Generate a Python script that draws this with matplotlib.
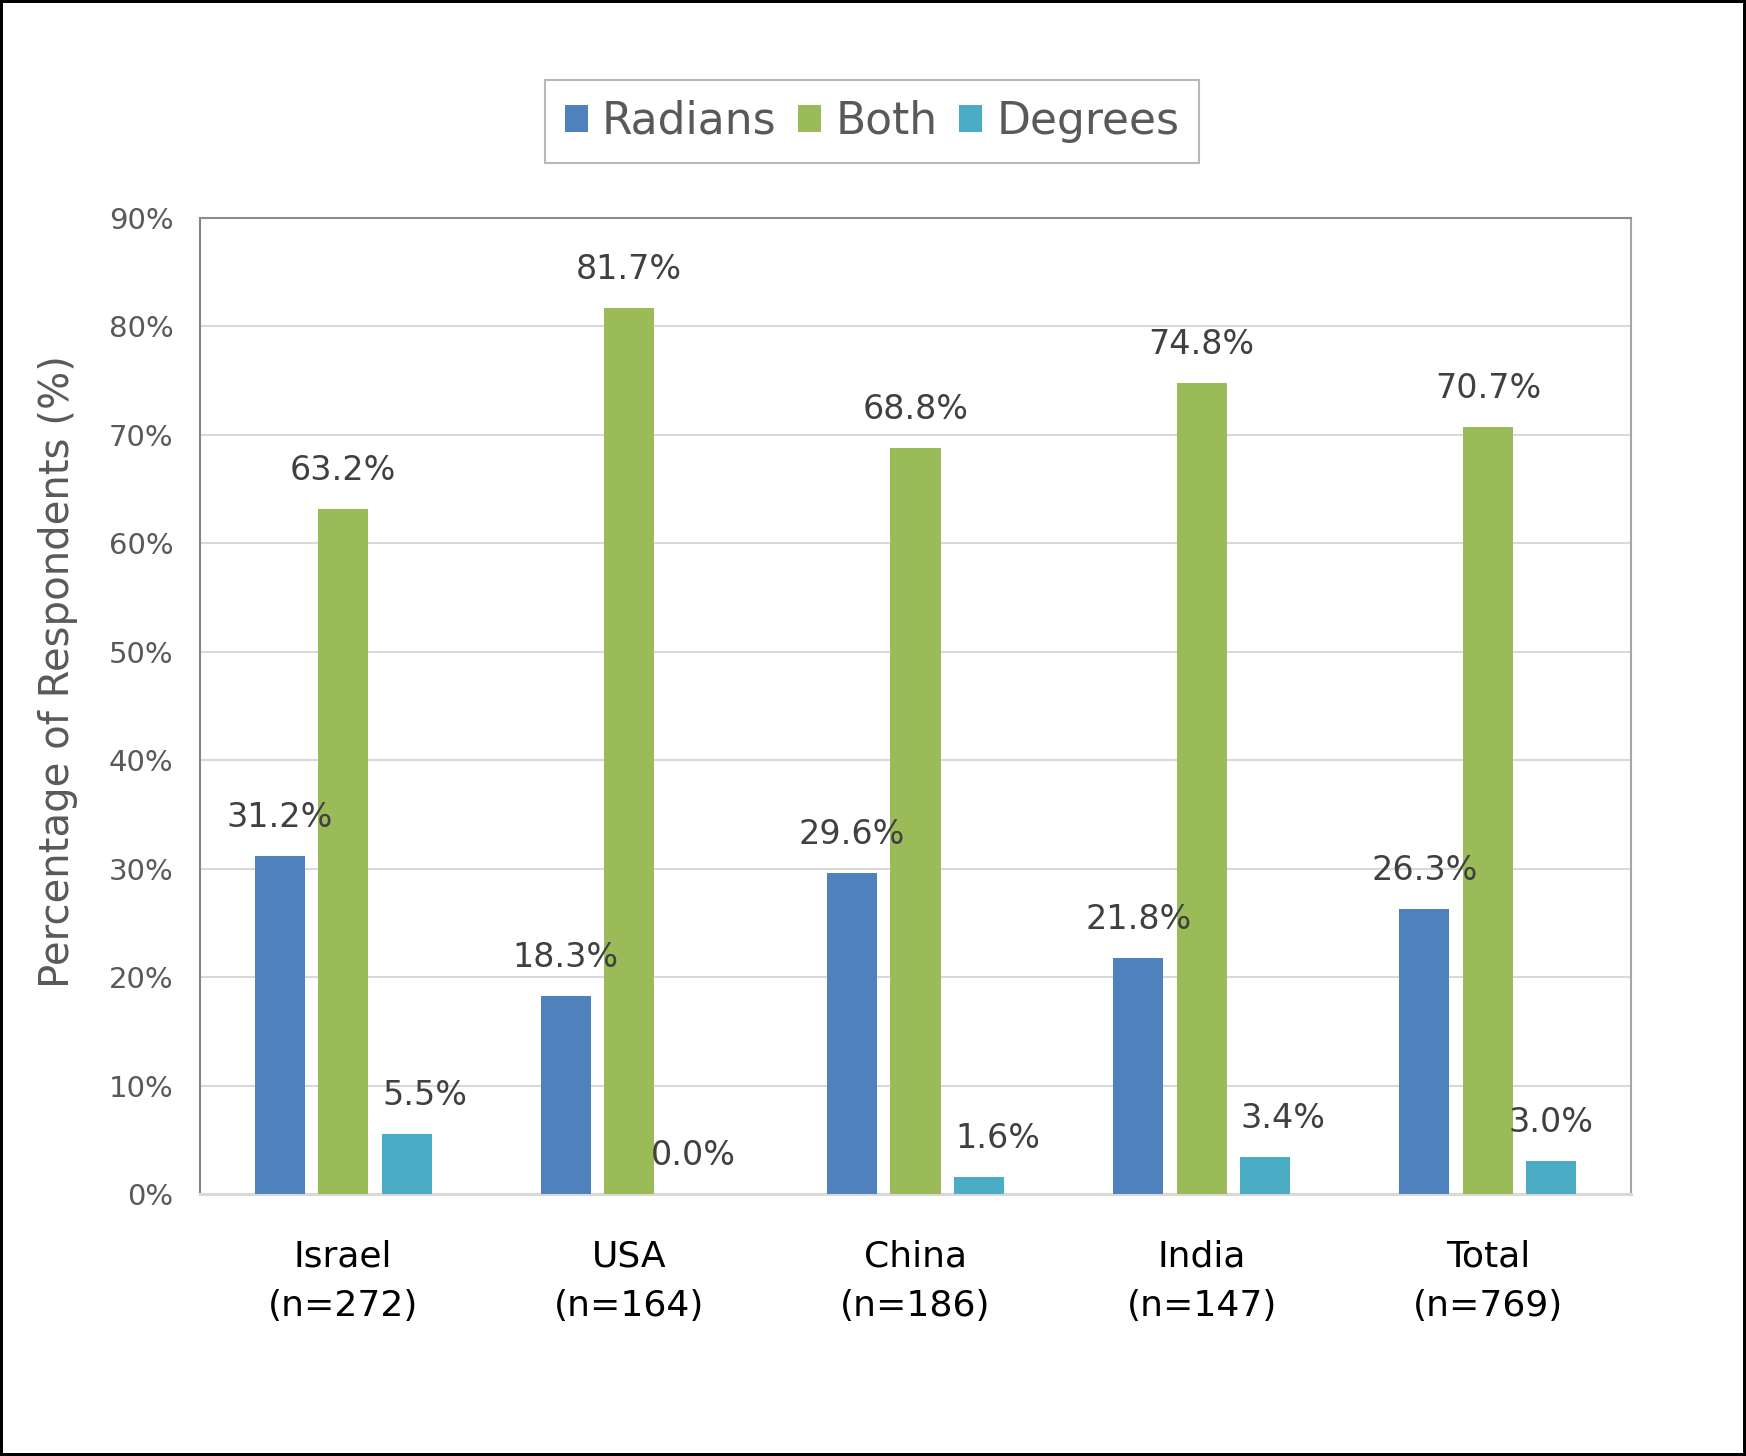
import matplotlib
matplotlib.use("Agg")
import matplotlib.pyplot as plt
import numpy as np
from matplotlib.patches import Rectangle, Patch

# ---- data ----
categories = ["Israel\n(n=272)", "USA\n(n=164)", "China\n(n=186)", "India\n(n=147)", "Total\n(n=769)"]
series_names = ["Radians", "Both", "Degrees"]
radians = [31.2, 18.3, 29.6, 21.8, 26.3]
both = [63.2, 81.7, 68.8, 74.8, 70.7]
degrees = [5.5, 0.0, 1.6, 3.4, 3.0]
yticks = [0, 10, 20, 30, 40, 50, 60, 70, 80, 90]

# ---- style ----
colors = ["#4F81BD", "#9BBB59", "#4BACC6"]
label_dx_pts = [[0, 0, 0, 0, 0], [0, 0, 0, 0, 0], [13, 0, 13.5, 13, -0.7]]

plt.rcParams['font.family'] = ['DejaVu Sans']

fig = plt.figure(figsize=(17.46, 14.56), dpi=100)
ax = fig.add_axes([200/1746, 1 - 1194/1456, 1431/1746, 976/1456])

x = np.arange(len(categories))
width = 0.175
pitch = 0.222
all_series = [radians, both, degrees]
for i, (vals, col) in enumerate(zip(all_series, colors)):
    xs = x + (i - 1) * pitch
    ax.bar(xs, vals, width=width, color=col, zorder=3, label=series_names[i])
    for j, (xx, v) in enumerate(zip(xs, vals)):
        ax.annotate(f"{v:.1f}%", xy=(xx, v), xytext=(label_dx_pts[i][j], 20.9),
                    textcoords="offset points", ha="center", va="baseline",
                    fontsize=24, color="#404040", zorder=4)

ax.set_xlim(-0.5, len(categories) - 0.5)
ax.set_ylim(0, 90)
ax.set_yticks(yticks)
ax.set_yticklabels([f"{t}%" for t in yticks])
ax.set_xticks(x)
ax.set_xticklabels(categories, fontsize=26, color="black", linespacing=1.55)
ax.tick_params(axis='y', length=0, pad=19, labelsize=21, labelcolor="#595959")
ax.tick_params(axis='x', length=0, pad=33)

ax.set_axisbelow(True)
ax.yaxis.grid(True, color="#D9D9D9", linewidth=1.5, zorder=0)
ax.spines['left'].set_color("#858585")
ax.spines['left'].set_linewidth(1.5)
ax.spines['top'].set_color("#8C8C8C")
ax.spines['top'].set_linewidth(1.5)
ax.spines['right'].set_color("#A6A6A6")
ax.spines['right'].set_linewidth(1.5)
ax.spines['bottom'].set_color("#D9D9D9")
ax.spines['bottom'].set_linewidth(2.2)

fig.text(58/1746, 1 - 672/1456, "Percentage of Respondents (%)", rotation=90,
         ha="center", va="center", fontsize=29, color="#595959")

handles = [Patch(facecolor=c, edgecolor="none") for c in colors]
leg = fig.legend(handles, series_names, loc="center", bbox_to_anchor=(872/1746, 1 - 121.5/1456),
                 ncol=3, fontsize=31.7, frameon=True, fancybox=False,
                 handlelength=0.52, handleheight=0.55, handletextpad=0.32,
                 columnspacing=0.5, borderpad=0.45, labelcolor="#595959")
leg.get_frame().set_edgecolor("#A6A6A6")
leg.get_frame().set_linewidth(1.5)

fig.patches.append(Rectangle((0, 0), 1, 1, transform=fig.transFigure, fill=False,
                             edgecolor="black", linewidth=4.3, zorder=10))

fig.savefig("out.png", dpi=100)
